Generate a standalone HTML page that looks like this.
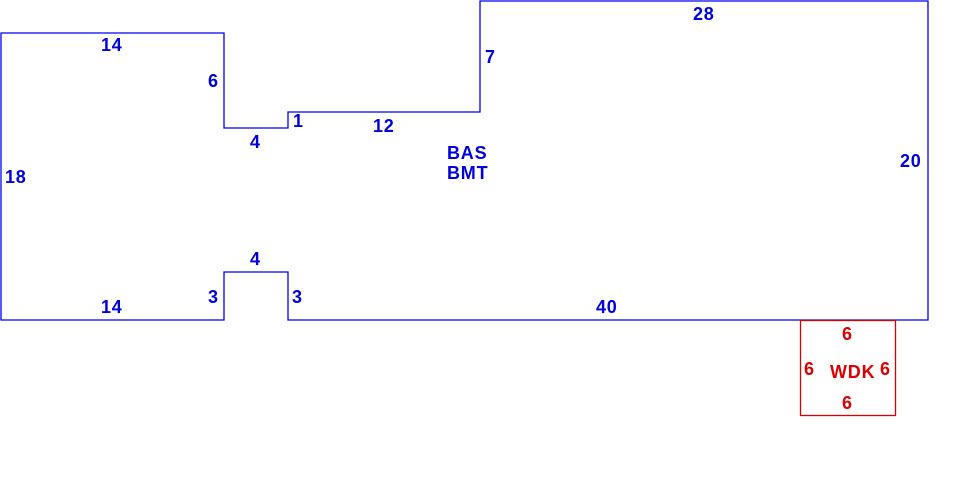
<!DOCTYPE html>
<html><head><style>html,body{margin:0;padding:0;background:#fff;width:980px;height:485px;overflow:hidden}svg{display:block}text{font-family:"Liberation Sans",Arial,sans-serif;font-weight:bold;font-size:18px;letter-spacing:0.8px}</style></head><body>
<svg width="980" height="485" viewBox="0 0 980 485">
<polygon points="1,33 224,33 224,128 288,128 288,112 480,112 480,1 928,1 928,320 288,320 288,272 224,272 224,320 1,320" fill="none" stroke="#0000ee" stroke-width="1.3"/>
<rect x="800.5" y="320.5" width="95" height="95" fill="none" stroke="#dd0000" stroke-width="1.3"/>
<g fill="#0000dd">
<text x="101" y="51">14</text>
<text x="208" y="87">6</text>
<text x="250" y="148">4</text>
<text x="293" y="127">1</text>
<text x="373" y="132">12</text>
<text x="485" y="63">7</text>
<text x="693" y="20">28</text>
<text x="447" y="159">BAS</text>
<text x="447" y="179">BMT</text>
<text x="5" y="183">18</text>
<text x="900" y="167">20</text>
<text x="250" y="265">4</text>
<text x="208" y="303">3</text>
<text x="292" y="303">3</text>
<text x="101" y="313">14</text>
<text x="596" y="313">40</text>
</g>
<g fill="#dd0000">
<text x="842" y="340">6</text>
<text x="804" y="375">6</text>
<text x="830" y="378">WDK</text>
<text x="880" y="375">6</text>
<text x="842" y="409">6</text>
</g>
</svg>
</body></html>
